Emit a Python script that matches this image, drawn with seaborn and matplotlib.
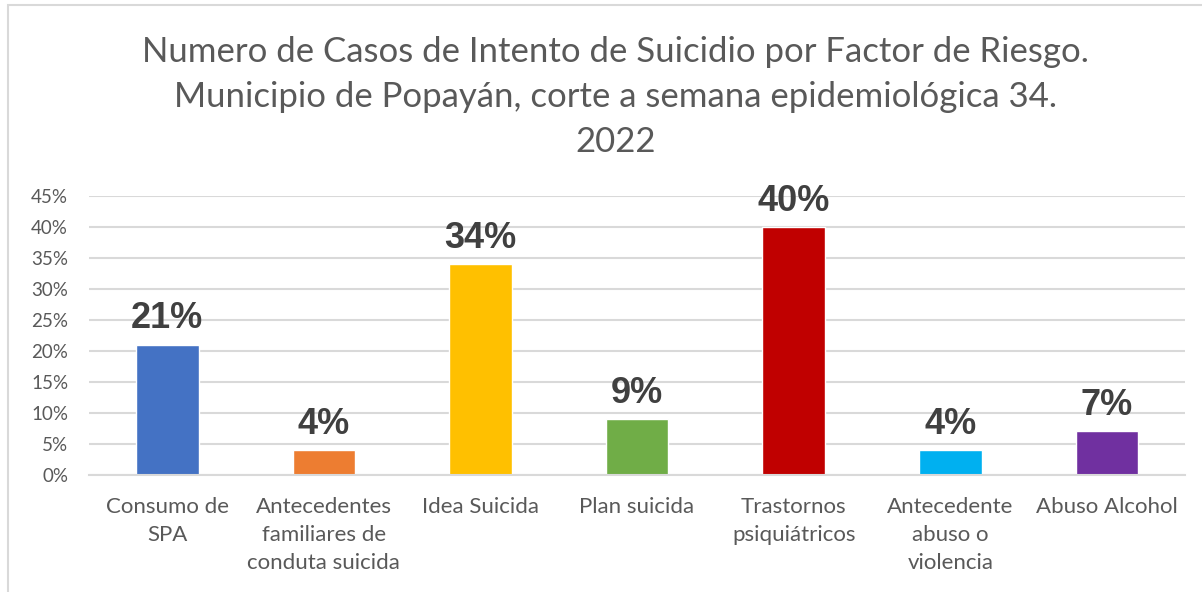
import pandas as pd
import numpy as np
import matplotlib.pyplot as plt
import seaborn as sns
from matplotlib.patches import Rectangle
from matplotlib.ticker import PercentFormatter

categories = ["Consumo de\nSPA", "Antecedentes\nfamiliares de\nconduta suicida", "Idea Suicida",
              "Plan suicida", "Trastornos\npsiquiátricos", "Antecedente\nabuso o\nviolencia",
              "Abuso Alcohol"]
values = [0.21, 0.04, 0.34, 0.09, 0.40, 0.04, 0.07]
colors = ["#4472C4", "#ED7D31", "#FFC000", "#70AD47", "#C00000", "#00B0F0", "#7030A0"]
title = ("Numero de Casos de Intento de Suicidio por Factor de Riesgo.\n"
         "Municipio de Popayán, corte a semana epidemiológica 34.\n2022")

sns.set_style("white")
plt.rcParams['font.family'] = ['Lato', 'DejaVu Sans']

df = pd.DataFrame({'factor': categories, 'pct': values})

fig = plt.figure(figsize=(12.02, 5.92), dpi=100)
ax = fig.add_axes([0.074, 0.198, 0.912, 0.471])

sns.barplot(data=df, x='factor', y='pct', hue='factor', palette=colors,
            width=0.4, legend=False, saturation=1, ax=ax)

ax.set_ylim(0, 0.45)
ax.set_yticks(np.arange(0, 0.451, 0.05))
ax.yaxis.set_major_formatter(PercentFormatter(1.0, decimals=0))
ax.grid(axis='y', color='#D9D9D9', linewidth=1.5)
ax.set_axisbelow(True)
for s in ['left', 'right', 'top']:
    ax.spines[s].set_visible(False)
ax.spines['bottom'].set_color('#D9D9D9')
ax.spines['bottom'].set_linewidth(1.5)
ax.tick_params(axis='both', length=0, labelcolor='#595959')
ax.tick_params(axis='y', labelsize=13.5, pad=15)
ax.tick_params(axis='x', labelsize=16, pad=16)
for lbl in ax.get_xticklabels():
    lbl.set_linespacing(1.5)
ax.set_xlabel('')
ax.set_ylabel('')

for i, v in enumerate(values):
    ax.annotate(f"{v*100:.0f}%", (i, v), xytext=(0, 6), textcoords='offset points',
                ha='center', va='bottom', fontsize=26, fontweight='bold',
                color='#404040', family='Liberation Sans')

fig.text(0.512, 0.94, title, ha='center', va='top', fontsize=25, color='#595959',
         linespacing=1.5)

fig.patches.append(Rectangle((8 / 1202, -0.01), 1.0, 1 - 5 / 592 + 0.01,
                             transform=fig.transFigure, fill=False,
                             edgecolor='#D9D9D9', linewidth=1.5))

plt.savefig("out.png", dpi=100)
plt.close()
